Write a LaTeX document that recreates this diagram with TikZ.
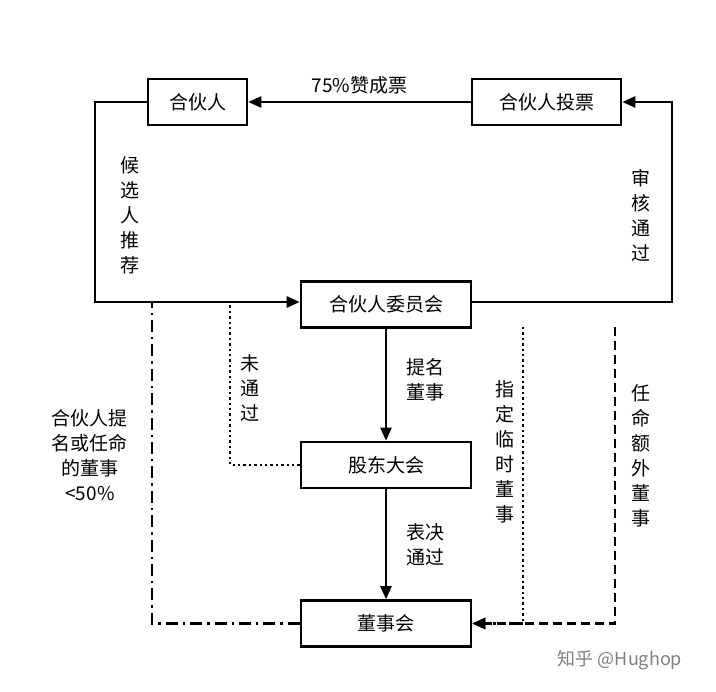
\documentclass[tikz,border=0pt]{standalone}
\usepackage{fontspec}
\setmainfont{Noto Sans CJK SC}
\usetikzlibrary{arrows.meta}
\begin{document}
\begin{tikzpicture}[x=1pt, y=-1pt,
    box/.style={draw, line width=2.6pt, minimum height=46pt, font=\fontsize{19}{22}\selectfont, inner sep=0pt},
    link/.style={line width=2.4pt},
    dots/.style={dash pattern=on 2.4pt off 3pt},
    dashes/.style={dash pattern=on 9pt off 5pt},
    dashdots/.style={dash pattern=on 12pt off 5pt on 2.4pt off 5pt},
    tip/.style={-{Triangle[length=13pt, width=11pt]}},
    lbl/.style={font=\fontsize{19}{25}\selectfont, align=center}]

    % page
    \useasboundingbox (0, 0) rectangle (716, 692);

    % boxes
    \node[box, minimum width=99pt] (partner) at (197.5, 102) {合伙人};
    \node[box, minimum width=149pt] (vote) at (546.5, 102) {合伙人投票};
    \node[box, minimum width=170pt] (committee) at (386, 304.5) {合伙人委员会};
    \node[box, minimum width=170pt] (meeting) at (386, 465) {股东大会};
    \node[box, minimum width=170pt] (board) at (386, 623.5) {董事会};

    % corner points
    \coordinate (tl) at (95, 102);
    \coordinate (bl) at (95, 302);
    \coordinate (tr) at (672, 102);
    \coordinate (br) at (672, 302);

    % solid connectors
    \draw[link, tip] (vote) -- node[lbl, above=3pt] {75\%赞成票} (partner);
    \draw[link, tip] (partner.west) -- (tl) -- (bl) -- (committee.west |- bl);
    \draw[link, tip] (committee.east |- br) -- (br) -- (tr) -- (vote.east);
    \draw[link, tip] (committee) -- (meeting);
    \draw[link, tip] (meeting) -- (board);

    % dotted and dashed connectors
    \draw[link, dots] (meeting.west) -- (230, 465) -- (230, 302);
    \draw[link, dashdots] (board.west) -- (152, 623.5) -- (152, 302);
    \draw[link, dots, tip] (523, 327) -- (523, 623.5) -- (board.east);
    \draw[link, dashes, tip] (615, 327) -- (615, 623.5) -- (board.east);

    % labels
    \node[lbl] at (130, 215) {候\\选\\人\\推\\荐};
    \node[lbl] at (641, 215) {审\\核\\通\\过};
    \node[lbl] at (425, 380) {提名\\董事};
    \node[lbl] at (425, 545) {表决\\通过};
    \node[lbl] at (250, 388) {未\\通\\过};
    \node[lbl] at (505, 452) {指\\定\\临\\时\\董\\事};
    \node[lbl] at (641, 456) {任\\命\\额\\外\\董\\事};
    \node[lbl] at (90, 455) {合伙人提\\名或任命\\的董事\\<50\%};
    \node[font=\fontsize{18}{20}\selectfont, text=gray] (mark) at (620, 660) {知乎 @Hughop};
\end{tikzpicture}
\end{document}
